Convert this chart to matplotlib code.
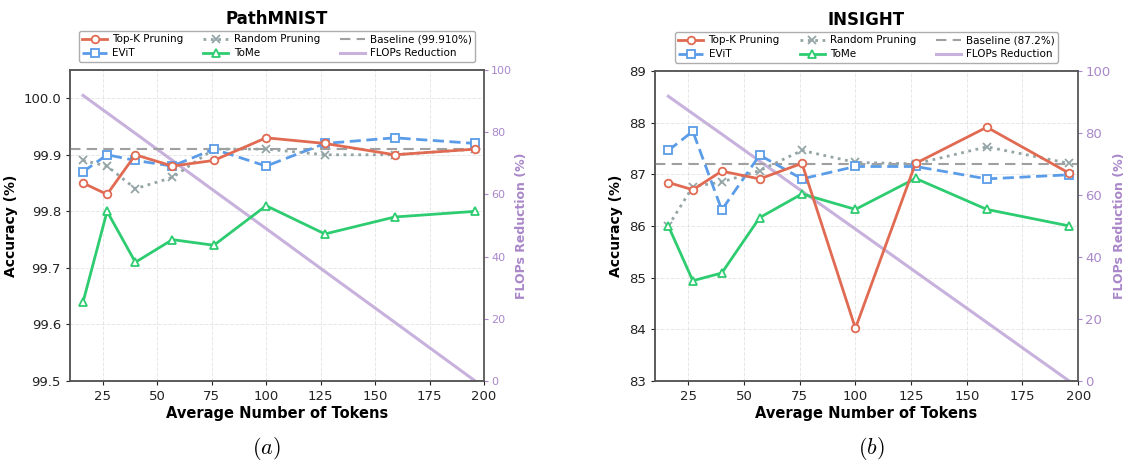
import matplotlib
matplotlib.use("Agg")
import matplotlib.pyplot as plt

plt.rcParams['mathtext.fontset'] = 'cm'

tokens = [16, 27, 40, 57, 76, 100, 127, 159, 196]
flops_red = [91.8, 86.2, 79.6, 70.9, 61.2, 49.0, 35.2, 18.9, 0.0]

# PathMNIST
path_topk = [99.85, 99.83, 99.90, 99.88, 99.89, 99.93, 99.92, 99.90, 99.91]
path_evit = [99.87, 99.90, 99.89, 99.88, 99.91, 99.88, 99.92, 99.93, 99.92]
path_rand = [99.89, 99.88, 99.84, 99.86, 99.91, 99.91, 99.90, 99.90, 99.91]
path_tome = [99.64, 99.80, 99.71, 99.75, 99.74, 99.81, 99.76, 99.79, 99.80]
path_base = 99.91

# INSIGHT
ins_topk = [86.84, 86.70, 87.06, 86.91, 87.21, 84.02, 87.21, 87.91, 87.02]
ins_evit = [87.46, 87.83, 86.31, 87.37, 86.91, 87.15, 87.15, 86.91, 86.99]
ins_rand = [86.00, 86.76, 86.85, 87.07, 87.46, 87.23, 87.20, 87.53, 87.21]
ins_tome = [86.00, 84.94, 85.09, 86.16, 86.62, 86.32, 86.92, 86.32, 86.00]
ins_base = 87.2

c_topk = '#e06a52'
c_evit = '#5b9ce8'
c_rand = '#95a5a6'
c_tome = '#2ecc71'
c_flops = '#c8b2dd'
c_purple = '#a987c9'


def draw(ax, title, topk, evit, rand, tome, base, base_lbl, ylim, yticks, yfmt, rfs):
    ax.plot(tokens, topk, '-o', color=c_topk, lw=2, ms=5.5, mfc='white', mew=1.3,
            label='Top-K Pruning', zorder=5)
    ax.plot(tokens, evit, '--s', color=c_evit, lw=2, ms=5.5, mfc='white', mew=1.3,
            label='EViT', dashes=(4, 2), zorder=4)
    ax.plot(tokens, rand, ':x', color=c_rand, lw=2, ms=5.5, mew=1.3,
            label='Random Pruning', zorder=3)
    ax.plot(tokens, tome, '-^', color=c_tome, lw=2, ms=5.5, mfc='white', mew=1.3,
            label='ToMe', zorder=4)
    ax.axhline(base, color='#a0a0a0', ls='--', lw=1.5, dashes=(5, 3), label=base_lbl, zorder=2)
    ax.set_xlim(10, 200)
    ax.set_ylim(*ylim)
    ax.set_yticks(yticks)
    ax.set_yticklabels([yfmt.format(v) for v in yticks])
    ax.set_xticks([25, 50, 75, 100, 125, 150, 175, 200])
    ax.grid(True, ls='--', alpha=0.3, lw=0.7)
    ax.tick_params(labelsize=9.5, colors='#222222', length=3)
    ax.set_xlabel('Average Number of Tokens', fontsize=10.5, fontweight='bold', labelpad=2)
    ax.set_ylabel('Accuracy (%)', fontsize=10, fontweight='bold')
    ax.set_title(title, fontsize=12, fontweight='bold', pad=33)
    for s in ax.spines.values():
        s.set_color('#555555')
        s.set_linewidth(1.1)

    ax2 = ax.twinx()
    ax2.plot(tokens, flops_red, '-', color=c_flops, lw=2.2, label='FLOPs Reduction', zorder=1)
    ax2.set_ylim(0, 100)
    ax2.set_yticks([0, 20, 40, 60, 80, 100])
    ax2.tick_params(axis='y', colors=c_purple, labelsize=rfs, length=3, pad=2)
    ax2.set_ylabel('FLOPs Reduction (%)', color=c_purple, fontsize=9, fontweight='bold',
                   labelpad=2)
    for s in ax2.spines.values():
        s.set_color('#555555')
        s.set_linewidth(1.1)
    ax2.spines['right'].set_color('#888888')
    ax.set_zorder(ax2.get_zorder() + 1)
    ax.patch.set_visible(False)

    h1, l1 = ax.get_legend_handles_labels()
    h2, l2 = ax2.get_legend_handles_labels()
    ax.legend(h1 + h2, l1 + l2, ncol=3, fontsize=7.5, loc='lower center',
              bbox_to_anchor=(0.5, 1.01), frameon=True, edgecolor='#999999',
              handlelength=2.4, columnspacing=1.9, borderpad=0.3, labelspacing=0.4,
              handletextpad=0.5)


fig = plt.figure(figsize=(11.24, 4.63), dpi=100)
ax_a = fig.add_axes([0.0623, 0.177, 0.3683, 0.672])
ax_b = fig.add_axes([0.5827, 0.177, 0.3765, 0.670])

draw(ax_a, 'PathMNIST', path_topk, path_evit, path_rand, path_tome, path_base,
     'Baseline (99.910%)', (99.5, 100.05), [99.5, 99.6, 99.7, 99.8, 99.9, 100.0], '{:.1f}', 8)
draw(ax_b, 'INSIGHT', ins_topk, ins_evit, ins_rand, ins_tome, ins_base,
     'Baseline (87.2%)', (83, 89), [83, 84, 85, 86, 87, 88, 89], '{:.0f}', 9.5)

fig.text(0.237, 0.02, r'$(a)$', fontsize=16, ha='center')
fig.text(0.775, 0.02, r'$(b)$', fontsize=16, ha='center')

fig.savefig('out.png', dpi=100)
